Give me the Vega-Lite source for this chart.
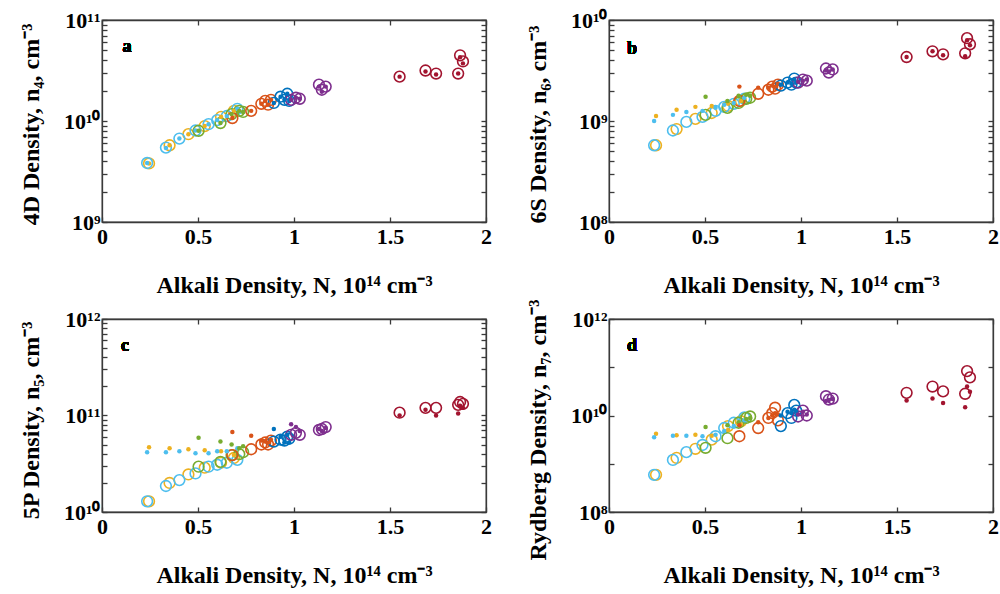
{
  "$schema": "https://vega.github.io/schema/vega-lite/v6.json",
  "autosize": {"type": "pad"},
  "padding": {"left": 18, "top": 8, "right": 60, "bottom": 60},
  "background": "white",
  "config": {
    "font": "Liberation Serif",
    "view": {"stroke": "#3a3a3a", "strokeWidth": 1.3, "strokeOpacity": 1},
    "axis": {
      "grid": false, "domain": true, "ticks": true,
      "domainColor": "#3a3a3a", "domainWidth": 1.3, "domainOpacity": 1,
      "tickColor": "#3a3a3a", "tickWidth": 1.3, "tickOpacity": 1, "tickSize": -5,
      "labelFont": "Liberation Serif", "labelFontWeight": "bold", "labelFontSize": 22, "labelColor": "#000",
      "labelFlush": false, "labelOverlap": false,
      "titleFont": "Liberation Serif", "titleFontWeight": "bold", "titleFontSize": 24, "titleColor": "#000"
    }
  },
  "datasets": {
    "pts": [
      {"g":"yellow","x":0.245,"a1":3.8e9,"a2":3.8e9,"b1":5.75e8,"b2":1.12e9,"c1":1.29e10,"c2":4.68e10,"d1":5.89e8,"d2":4.17e9},
      {"g":"yellow","x":0.352,"a1":5.75e9,"a2":5.75e9,"b1":8.32e8,"b2":1.29e9,"c1":2.0e10,"c2":4.57e10,"d1":1.32e9,"d2":3.89e9},
      {"g":"yellow","x":0.45,"a1":7.41e9,"a2":7.41e9,"b1":1.05e9,"b2":1.38e9,"c1":2.45e10,"c2":4.47e10,"d1":2.04e9,"d2":3.98e9},
      {"g":"yellow","x":0.535,"a1":8.91e9,"a2":8.91e9,"b1":1.2e9,"b2":1.41e9,"c1":2.88e10,"c2":4.37e10,"d1":3.16e9,"d2":3.8e9},
      {"g":"yellow","x":0.62,"a1":1.1e10,"a2":1.1e10,"b1":1.41e9,"b2":1.48e9,"c1":3.24e10,"c2":4.27e10,"d1":6.03e9,"d2":5.01e9},
      {"g":"yellow","x":0.687,"a1":1.26e10,"a2":1.26e10,"b1":1.58e9,"b2":1.58e9,"c1":3.63e10,"c2":3.89e10,"d1":7.59e9,"d2":6.61e9},
      {"g":"cyan","x":0.235,"a1":3.84e9,"a2":3.84e9,"b1":5.75e8,"b2":1.0e9,"c1":1.29e10,"c2":4.17e10,"d1":5.89e8,"d2":3.55e9},
      {"g":"cyan","x":0.333,"a1":5.45e9,"a2":5.4e9,"b1":8.05e8,"b2":1.15e9,"c1":1.86e10,"c2":4.17e10,"d1":1.2e9,"d2":3.8e9},
      {"g":"cyan","x":0.403,"a1":6.7e9,"a2":6.7e9,"b1":9.8e8,"b2":1.23e9,"c1":2.14e10,"c2":4.27e10,"d1":1.74e9,"d2":3.8e9},
      {"g":"cyan","x":0.487,"a1":8.05e9,"a2":8.05e9,"b1":1.1e9,"b2":1.26e9,"c1":2.51e10,"c2":4.07e10,"d1":2.45e9,"d2":3.72e9},
      {"g":"cyan","x":0.555,"a1":9.3e9,"a2":9.3e9,"b1":1.26e9,"b2":1.35e9,"c1":2.95e10,"c2":4.07e10,"d1":3.72e9,"d2":3.98e9},
      {"g":"cyan","x":0.6,"a1":1.02e10,"a2":1.02e10,"b1":1.38e9,"b2":1.45e9,"c1":3.09e10,"c2":4.27e10,"d1":5.5e9,"d2":4.79e9},
      {"g":"cyan","x":0.65,"a1":1.12e10,"a2":1.12e10,"b1":1.48e9,"b2":1.51e9,"c1":3.24e10,"c2":4.27e10,"d1":7.08e9,"d2":6.03e9},
      {"g":"cyan","x":0.705,"a1":1.32e10,"a2":1.32e10,"b1":1.66e9,"b2":1.7e9,"c1":3.47e10,"c2":4.57e10,"d1":9.12e9,"d2":7.94e9},
      {"g":"green","x":0.503,"a1":8.0e9,"a2":8.0e9,"b1":1.15e9,"b2":1.74e9,"c1":2.95e10,"c2":5.89e10,"d1":2.14e9,"d2":5.75e9},
      {"g":"green","x":0.617,"a1":9.55e9,"a2":9.55e9,"b1":1.35e9,"b2":1.58e9,"c1":3.31e10,"c2":5.37e10,"d1":3.39e9,"d2":6.31e9},
      {"g":"green","x":0.675,"a1":1.17e10,"a2":1.17e10,"b1":1.51e9,"b2":1.78e9,"c1":3.89e10,"c2":5.01e10,"d1":7.08e9,"d2":7.24e9},
      {"g":"green","x":0.715,"a1":1.26e10,"a2":1.26e10,"b1":1.66e9,"b2":1.82e9,"c1":3.98e10,"c2":4.57e10,"d1":8.91e9,"d2":8.51e9},
      {"g":"green","x":0.735,"a1":1.23e10,"a2":1.23e10,"b1":1.7e9,"b2":1.78e9,"c1":4.17e10,"c2":4.79e10,"d1":9.55e9,"d2":8.91e9},
      {"g":"orange","x":0.679,"a1":1.07e10,"a2":1.07e10,"b1":1.58e9,"b2":2.19e9,"c1":3.89e10,"c2":6.76e10,"d1":3.72e9,"d2":6.31e9},
      {"g":"orange","x":0.777,"a1":1.26e10,"a2":1.26e10,"b1":1.86e9,"b2":2.14e9,"c1":4.47e10,"c2":6.17e10,"d1":5.5e9,"d2":7.24e9},
      {"g":"orange","x":0.83,"a1":1.48e10,"a2":1.48e10,"b1":2.04e9,"b2":2.14e9,"c1":5.01e10,"c2":5.5e10,"d1":8.91e9,"d2":8.91e9},
      {"g":"orange","x":0.85,"a1":1.58e10,"a2":1.58e10,"b1":2.19e9,"b2":2.24e9,"c1":5.25e10,"c2":5.37e10,"d1":1.12e10,"d2":1.0e10},
      {"g":"orange","x":0.865,"a1":1.45e10,"a2":1.45e10,"b1":2.09e9,"b2":2.19e9,"c1":5.01e10,"c2":5.25e10,"d1":1.45e10,"d2":1.12e10},
      {"g":"orange","x":0.88,"a1":1.62e10,"a2":1.62e10,"b1":2.29e9,"b2":2.34e9,"c1":5.5e10,"c2":5.62e10,"d1":7.94e9,"d2":1.05e10},
      {"g":"blue","x":0.895,"a1":1.51e10,"a2":1.51e10,"b1":2.24e9,"b2":2.29e9,"c1":5.37e10,"c2":7.24e10,"d1":6.03e9,"d2":1.0e10},
      {"g":"blue","x":0.93,"a1":1.74e10,"a2":1.74e10,"b1":2.4e9,"b2":2.4e9,"c1":5.62e10,"c2":6.03e10,"d1":1.12e10,"d2":1.2e10},
      {"g":"blue","x":0.95,"a1":1.62e10,"a2":1.62e10,"b1":2.29e9,"b2":2.34e9,"c1":5.5e10,"c2":5.25e10,"d1":8.91e9,"d2":1.12e10},
      {"g":"blue","x":0.965,"a1":1.86e10,"a2":1.86e10,"b1":2.63e9,"b2":2.57e9,"c1":6.03e10,"c2":6.31e10,"d1":1.66e10,"d2":1.32e10},
      {"g":"blue","x":0.975,"a1":1.58e10,"a2":1.58e10,"b1":2.4e9,"b2":2.4e9,"c1":5.75e10,"c2":5.25e10,"d1":1.26e10,"d2":1.2e10},
      {"g":"purple","x":0.985,"a1":1.62e10,"a2":1.62e10,"b1":2.4e9,"b2":2.45e9,"c1":6.31e10,"c2":8.13e10,"d1":9.55e9,"d2":1.05e10},
      {"g":"purple","x":1.01,"a1":1.7e10,"a2":1.7e10,"b1":2.57e9,"b2":2.51e9,"c1":6.61e10,"c2":7.59e10,"d1":1.26e10,"d2":1.2e10},
      {"g":"purple","x":1.03,"a1":1.66e10,"a2":1.66e10,"b1":2.51e9,"b2":2.57e9,"c1":6.31e10,"c2":6.92e10,"d1":1.0e10,"d2":1.05e10},
      {"g":"purple","x":1.13,"a1":2.29e10,"a2":2.19e10,"b1":3.31e9,"b2":3.16e9,"c1":7.08e10,"c2":7.24e10,"d1":2.51e10,"d2":2.0e10},
      {"g":"purple","x":1.145,"a1":2.04e10,"a2":1.95e10,"b1":3.02e9,"b2":3.09e9,"c1":7.24e10,"c2":6.92e10,"d1":2.14e10,"d2":2.09e10},
      {"g":"purple","x":1.165,"a1":2.19e10,"a2":2.19e10,"b1":3.24e9,"b2":3.24e9,"c1":7.59e10,"c2":7.41e10,"d1":2.24e10,"d2":2.19e10},
      {"g":"darkred","x":1.55,"a1":2.75e10,"a2":2.75e10,"b1":4.3e9,"b2":4.3e9,"c1":1.07e11,"c2":1.0e11,"d1":2.95e10,"d2":2.04e10},
      {"g":"darkred","x":1.685,"a1":3.16e10,"a2":3.09e10,"b1":4.9e9,"b2":4.9e9,"c1":1.2e11,"c2":1.15e11,"d1":3.98e10,"d2":2.24e10},
      {"g":"darkred","x":1.74,"a1":2.95e10,"a2":2.88e10,"b1":4.57e9,"b2":4.47e9,"c1":1.2e11,"c2":1.0e11,"d1":3.16e10,"d2":1.82e10},
      {"g":"darkred","x":1.855,"a1":2.95e10,"a2":2.95e10,"b1":4.68e9,"b2":4.37e9,"c1":1.29e11,"c2":1.05e11,"d1":2.82e10,"d2":1.48e10},
      {"g":"darkred","x":1.865,"a1":4.47e10,"a2":4.27e10,"b1":6.61e9,"b2":6.31e9,"c1":1.38e11,"c2":1.26e11,"d1":8.32e10,"d2":3.98e10},
      {"g":"darkred","x":1.88,"a1":3.89e10,"a2":3.72e10,"b1":5.75e9,"b2":5.62e9,"c1":1.32e11,"c2":1.2e11,"d1":6.17e10,"d2":3.09e10}
    ]
  },
  "data": {"name": "pts"},
  "columns": 2,
  "spacing": {"row": 0, "column": 32},
  "concat": [
    {
      "width": 384, "height": 202,
      "resolve": {"axis": {"x": "independent", "y": "independent"}},
      "layer": [
        {
          "mark": {"type": "point", "filled": false, "size": 115, "strokeWidth": 1.6, "opacity": 1},
          "encoding": {
            "x": {"field": "x", "type": "quantitative", "scale": {"domain": [0, 2], "nice": false},
                  "axis": {"orient": "bottom", "values": [0, 0.5, 1, 1.5, 2], "format": "~g", "labelPadding": 9, "title": "Alkali Density, N, 10¹⁴ cm⁻³", "titleY": 70, "titleBaseline": "alphabetic"}},
            "y": {"field": "a1", "type": "quantitative", "scale": {"type": "log", "domain": [1e9, 1e11], "nice": false},
                  "axis": {"orient": "left", "values": [1e9,2e9,3e9,4e9,5e9,6e9,7e9,8e9,9e9,1e10,2e10,3e10,4e10,5e10,6e10,7e10,8e10,9e10,1e11], "labelExpr": "datum.value == 1e9 ? '10⁹' : datum.value == 1e10 ? '10¹⁰' : datum.value == 1e11 ? '10¹¹' : ''", "labelPadding": 7, "title": "4D Density, n₄, cm⁻³", "titleX": -64, "titleY": 104, "titleBaseline": "alphabetic"}},
            "color": {"field": "g", "type": "nominal", "scale": {"domain": ["yellow","cyan","green","orange","blue","purple","darkred"], "range": ["#EDB120","#4DBEEE","#77AC30","#D95319","#0072BD","#7E2F8E","#A2142F"]}, "legend": null}
          }
        },
        {
          "mark": {"type": "circle", "size": 20, "opacity": 1},
          "encoding": {
            "x": {"field": "x", "type": "quantitative", "axis": {"orient": "top", "values": [0, 0.5, 1, 1.5, 2], "labels": false, "title": null}},
            "y": {"field": "a2", "type": "quantitative", "axis": {"orient": "right", "values": [1e9,2e9,3e9,4e9,5e9,6e9,7e9,8e9,9e9,1e10,2e10,3e10,4e10,5e10,6e10,7e10,8e10,9e10,1e11], "labels": false, "title": null}},
            "color": {"field": "g", "type": "nominal", "legend": null}
          }
        },
        {
          "mark": {"type": "text", "font": "Liberation Serif", "fontWeight": "bold", "fontSize": 18, "color": "#000", "align": "center", "baseline": "middle"},
          "encoding": {
            "x": {"datum": 0.13, "type": "quantitative", "axis": null},
            "y": {"datum": 5.4e10, "type": "quantitative", "axis": null},
            "text": {"value": "a"}
          }
        }
      ]
    },
    {
      "width": 384, "height": 202,
      "resolve": {"axis": {"x": "independent", "y": "independent"}},
      "layer": [
        {
          "mark": {"type": "point", "filled": false, "size": 115, "strokeWidth": 1.6, "opacity": 1},
          "encoding": {
            "x": {"field": "x", "type": "quantitative", "scale": {"domain": [0, 2], "nice": false},
                  "axis": {"orient": "bottom", "values": [0, 0.5, 1, 1.5, 2], "format": "~g", "labelPadding": 9, "title": "Alkali Density, N, 10¹⁴ cm⁻³", "titleY": 70, "titleBaseline": "alphabetic"}},
            "y": {"field": "b1", "type": "quantitative", "scale": {"type": "log", "domain": [1e8, 1e10], "nice": false},
                  "axis": {"orient": "left", "values": [1e8,2e8,3e8,4e8,5e8,6e8,7e8,8e8,9e8,1e9,2e9,3e9,4e9,5e9,6e9,7e9,8e9,9e9,1e10], "labelExpr": "datum.value == 1e8 ? '10⁸' : datum.value == 1e9 ? '10⁹' : datum.value == 1e10 ? '10¹⁰' : ''", "labelPadding": 7, "title": "6S Density, n₆, cm⁻³", "titleX": -64, "titleY": 104, "titleBaseline": "alphabetic"}},
            "color": {"field": "g", "type": "nominal", "scale": {"domain": ["yellow","cyan","green","orange","blue","purple","darkred"], "range": ["#EDB120","#4DBEEE","#77AC30","#D95319","#0072BD","#7E2F8E","#A2142F"]}, "legend": null}
          }
        },
        {
          "mark": {"type": "circle", "size": 20, "opacity": 1},
          "encoding": {
            "x": {"field": "x", "type": "quantitative", "axis": {"orient": "top", "values": [0, 0.5, 1, 1.5, 2], "labels": false, "title": null}},
            "y": {"field": "b2", "type": "quantitative", "axis": {"orient": "right", "values": [1e8,2e8,3e8,4e8,5e8,6e8,7e8,8e8,9e8,1e9,2e9,3e9,4e9,5e9,6e9,7e9,8e9,9e9,1e10], "labels": false, "title": null}},
            "color": {"field": "g", "type": "nominal", "legend": null}
          }
        },
        {
          "mark": {"type": "text", "font": "Liberation Serif", "fontWeight": "bold", "fontSize": 18, "color": "#000", "align": "center", "baseline": "middle"},
          "encoding": {
            "x": {"datum": 0.12, "type": "quantitative", "axis": null},
            "y": {"datum": 5.2e9, "type": "quantitative", "axis": null},
            "text": {"value": "b"}
          }
        }
      ]
    },
    {
      "width": 384, "height": 193,
      "resolve": {"axis": {"x": "independent", "y": "independent"}},
      "layer": [
        {
          "mark": {"type": "point", "filled": false, "size": 115, "strokeWidth": 1.6, "opacity": 1},
          "encoding": {
            "x": {"field": "x", "type": "quantitative", "scale": {"domain": [0, 2], "nice": false},
                  "axis": {"orient": "bottom", "values": [0, 0.5, 1, 1.5, 2], "format": "~g", "labelPadding": 9, "title": "Alkali Density, N, 10¹⁴ cm⁻³", "titleY": 70, "titleBaseline": "alphabetic"}},
            "y": {"field": "c1", "type": "quantitative", "scale": {"type": "log", "domain": [1e10, 1e12], "nice": false},
                  "axis": {"orient": "left", "values": [1e10,2e10,3e10,4e10,5e10,6e10,7e10,8e10,9e10,1e11,2e11,3e11,4e11,5e11,6e11,7e11,8e11,9e11,1e12], "labelExpr": "datum.value == 1e10 ? '10¹⁰' : datum.value == 1e11 ? '10¹¹' : datum.value == 1e12 ? '10¹²' : ''", "labelPadding": 7, "title": "5P Density, n₅, cm⁻³", "titleX": -64, "titleY": 101, "titleBaseline": "alphabetic"}},
            "color": {"field": "g", "type": "nominal", "scale": {"domain": ["yellow","cyan","green","orange","blue","purple","darkred"], "range": ["#EDB120","#4DBEEE","#77AC30","#D95319","#0072BD","#7E2F8E","#A2142F"]}, "legend": null}
          }
        },
        {
          "mark": {"type": "circle", "size": 20, "opacity": 1},
          "encoding": {
            "x": {"field": "x", "type": "quantitative", "axis": {"orient": "top", "values": [0, 0.5, 1, 1.5, 2], "labels": false, "title": null}},
            "y": {"field": "c2", "type": "quantitative", "axis": {"orient": "right", "values": [1e10,2e10,3e10,4e10,5e10,6e10,7e10,8e10,9e10,1e11,2e11,3e11,4e11,5e11,6e11,7e11,8e11,9e11,1e12], "labels": false, "title": null}},
            "color": {"field": "g", "type": "nominal", "legend": null}
          }
        },
        {
          "mark": {"type": "text", "font": "Liberation Serif", "fontWeight": "bold", "fontSize": 18, "color": "#000", "align": "center", "baseline": "middle"},
          "encoding": {
            "x": {"datum": 0.12, "type": "quantitative", "axis": null},
            "y": {"datum": 5.3e11, "type": "quantitative", "axis": null},
            "text": {"value": "c"}
          }
        }
      ]
    },
    {
      "width": 384, "height": 193,
      "resolve": {"axis": {"x": "independent", "y": "independent"}},
      "layer": [
        {
          "mark": {"type": "point", "filled": false, "size": 115, "strokeWidth": 1.6, "opacity": 1},
          "encoding": {
            "x": {"field": "x", "type": "quantitative", "scale": {"domain": [0, 2], "nice": false},
                  "axis": {"orient": "bottom", "values": [0, 0.5, 1, 1.5, 2], "format": "~g", "labelPadding": 9, "title": "Alkali Density, N, 10¹⁴ cm⁻³", "titleY": 70, "titleBaseline": "alphabetic"}},
            "y": {"field": "d1", "type": "quantitative", "scale": {"type": "log", "domain": [1e8, 1e12], "nice": false},
                  "axis": {"orient": "left", "values": [1e8,1e9,1e10,1e11,1e12], "labelExpr": "datum.value == 1e8 ? '10⁸' : datum.value == 1e10 ? '10¹⁰' : datum.value == 1e12 ? '10¹²' : ''", "labelPadding": 7, "title": "Rydberg Density, n₇, cm⁻³", "titleX": -64, "titleY": 110.5, "titleBaseline": "alphabetic"}},
            "color": {"field": "g", "type": "nominal", "scale": {"domain": ["yellow","cyan","green","orange","blue","purple","darkred"], "range": ["#EDB120","#4DBEEE","#77AC30","#D95319","#0072BD","#7E2F8E","#A2142F"]}, "legend": null}
          }
        },
        {
          "mark": {"type": "circle", "size": 20, "opacity": 1},
          "encoding": {
            "x": {"field": "x", "type": "quantitative", "axis": {"orient": "top", "values": [0, 0.5, 1, 1.5, 2], "labels": false, "title": null}},
            "y": {"field": "d2", "type": "quantitative", "axis": {"orient": "right", "values": [1e8,1e9,1e10,1e11,1e12], "labels": false, "title": null}},
            "color": {"field": "g", "type": "nominal", "legend": null}
          }
        },
        {
          "mark": {"type": "text", "font": "Liberation Serif", "fontWeight": "bold", "fontSize": 18, "color": "#000", "align": "center", "baseline": "middle"},
          "encoding": {
            "x": {"datum": 0.12, "type": "quantitative", "axis": null},
            "y": {"datum": 2.8e11, "type": "quantitative", "axis": null},
            "text": {"value": "d"}
          }
        }
      ]
    }
  ]
}
